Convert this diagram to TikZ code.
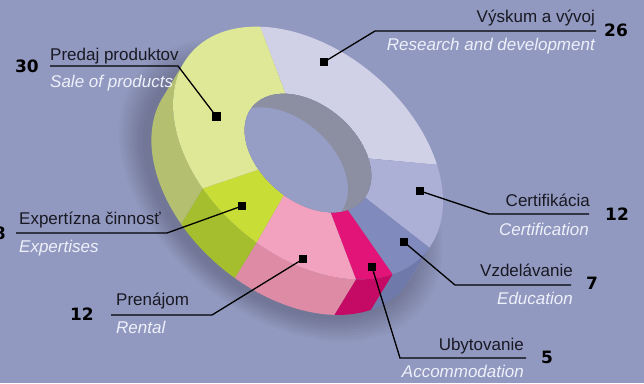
\documentclass[tikz,border=0pt]{standalone}
\usepackage{fontspec}
\setmainfont{Liberation Sans}
\newfontfamily\numfont{DejaVu Sans}
\definecolor{bgcol}{RGB}{146,153,192}
\definecolor{labeltext}{RGB}{25,25,35}
\definecolor{engtext}{RGB}{238,240,250}
\definecolor{resTop}{RGB}{208,208,231}
\definecolor{certTop}{RGB}{172,176,214}
\definecolor{certSide}{RGB}{150,155,200}
\definecolor{eduTop}{RGB}{128,138,188}
\definecolor{eduSide}{RGB}{112,122,170}
\definecolor{accTop}{RGB}{226,20,120}
\definecolor{accSide}{RGB}{196,10,100}
\definecolor{renTop}{RGB}{242,162,190}
\definecolor{renSide}{RGB}{222,140,165}
\definecolor{expTop}{RGB}{200,222,55}
\definecolor{expSide}{RGB}{165,190,45}
\definecolor{saleTop}{RGB}{222,232,150}
\definecolor{saleSide}{RGB}{180,192,112}
\definecolor{holeWall}{RGB}{140,143,162}
\definecolor{holeBg}{RGB}{150,158,198}
\newcommand\slicetop[3]{\fill[#3] plot[domain=#1:#2,samples=40] ({cos(\x)},{sin(\x)}) -- plot[domain=#2:#1,samples=40] ({0.47*cos(\x)},{0.47*sin(\x)}) -- cycle;}
\newcommand\sliceside[3]{\fill[#3] plot[domain=#1:#2,samples=30] ({cos(\x)},{sin(\x)}) -- plot[domain=#2:#1,samples=30] ({cos(\x)+0.041},{sin(\x)-0.402}) -- cycle;}
\tikzset{
  lbl/.style={font=\fontsize{17}{20}\selectfont, text=labeltext, inner sep=0pt},
  eng/.style={font=\fontsize{17}{20}\selectfont\itshape, text=engtext, inner sep=0pt},
  num/.style={font=\numfont\bfseries\fontsize{17}{20}\selectfont, text=black, inner sep=0pt},
  sq/.style={fill=black, minimum size=8.5pt, inner sep=0pt},
  lead/.style={draw=black, line width=1.3pt},
}
\begin{document}
\begin{tikzpicture}[x=1pt,y=-1pt]
\useasboundingbox (0,0) rectangle (644,383);
\fill[bgcol] (0,0) rectangle (644,383);
% donut
\begin{scope}[shift={(308,153)}, x={(117.8pt,-99.2pt)}, y={(65.9pt,78.3pt)}]
  \foreach \k in {1,...,9} {
    \fill[black, opacity=0.025] plot[domain=0:360,samples=72] ({(1+0.022*\k)*cos(\x)+0.02},{(1+0.022*\k)*sin(\x)-0.45}) -- cycle;
  }
  % sides
  \sliceside{3.2}{5.8}{certSide}
  \sliceside{-22}{3.2}{eduSide}
  \sliceside{-40}{-22}{accSide}
  \sliceside{-83.2}{-40}{renSide}
  \sliceside{-112}{-83.2}{expSide}
  \sliceside{-174.2}{-112}{saleSide}
  % top faces
  \slicetop{46.4}{140}{resTop}
  \slicetop{3.2}{46.4}{certTop}
  \slicetop{-22}{3.2}{eduTop}
  \slicetop{-40}{-22}{accTop}
  \slicetop{-83.2}{-40}{renTop}
  \slicetop{-112}{-83.2}{expTop}
  \slicetop{140}{248}{saleTop}
  % hole
  \begin{scope}
    \clip plot[domain=0:360,samples=72] ({0.47*cos(\x)},{0.47*sin(\x)}) -- cycle;
    \fill[holeWall] plot[domain=0:360,samples=72] ({0.47*cos(\x)},{0.47*sin(\x)}) -- cycle;
    \fill[holeBg] plot[domain=0:360,samples=72] ({0.47*cos(\x)-0.06},{0.47*sin(\x)-0.25}) -- cycle;
  \end{scope}
\end{scope}
% squares
\node[sq] (sqSale) at (216.5,116.7) {};
\node[sq] (sqRes) at (324,62) {};
\node[sq] (sqCert) at (420,191) {};
\node[sq] (sqEdu) at (404,242) {};
\node[sq] (sqAcc) at (372,267) {};
\node[sq] (sqExp) at (242,206) {};
\node[sq] (sqRen) at (303,259) {};
% Sale of products
\node[lbl, anchor=base west] (tSale) at (50,60) {Predaj produktov};
\node[eng, anchor=base west] (eSale) at (50,87) {Sale of products};
\node[num, anchor=east] (nSale) at (39,66) {30};
\coordinate (aSale) at (50,66);
\coordinate (bSale) at (178,66);
\draw[lead] (aSale) -- (bSale) -- (sqSale.center);
% Research
\node[lbl, anchor=base east] (tRes) at (595,22) {Výskum a vývoj};
\node[eng, anchor=base east] (eRes) at (595,50) {Research and development};
\node[num, anchor=west] (nRes) at (604,30) {26};
\coordinate (aRes) at (596,31);
\coordinate (bRes) at (375,31);
\draw[lead] (aRes) -- (bRes) -- (sqRes.center);
% Certification
\node[lbl, anchor=base east] (tCert) at (590,206) {Certifikácia};
\node[eng, anchor=base east] (eCert) at (589,235) {Certification};
\node[num, anchor=west] (nCert) at (605,214.5) {12};
\coordinate (aCert) at (589,214);
\coordinate (bCert) at (489,214);
\draw[lead] (aCert) -- (bCert) -- (sqCert.center);
% Education
\node[lbl, anchor=base east] (tEdu) at (573,276) {Vzdelávanie};
\node[eng, anchor=base east] (eEdu) at (573,304) {Education};
\node[num, anchor=west] (nEdu) at (586,283.5) {7};
\coordinate (aEdu) at (571,285);
\coordinate (bEdu) at (455,285);
\draw[lead] (aEdu) -- (bEdu) -- (sqEdu.center);
% Accommodation
\node[lbl, anchor=base east] (tAcc) at (524,350) {Ubytovanie};
\node[eng, anchor=base east] (eAcc) at (524,377) {Accommodation};
\node[num, anchor=west] (nAcc) at (541,357.5) {5};
\coordinate (aAcc) at (526,358);
\coordinate (bAcc) at (400,358);
\draw[lead] (aAcc) -- (bAcc) -- (sqAcc.center);
% Expertises
\node[lbl, anchor=base west] (tExp) at (19,224) {Expertízna činnosť};
\node[eng, anchor=base west] (eExp) at (19,252) {Expertises};
\node[num, anchor=east] (nExp) at (6,233) {8};
\coordinate (aExp) at (16,233);
\coordinate (bExp) at (167,233);
\draw[lead] (aExp) -- (bExp) -- (sqExp.center);
% Rental
\node[lbl, anchor=base west] (tRen) at (116,305) {Prenájom};
\node[eng, anchor=base west] (eRen) at (116,333) {Rental};
\node[num, anchor=east] (nRen) at (94,314) {12};
\coordinate (aRen) at (111,315);
\coordinate (bRen) at (212,315);
\draw[lead] (aRen) -- (bRen) -- (sqRen.center);
\end{tikzpicture}
\end{document}
